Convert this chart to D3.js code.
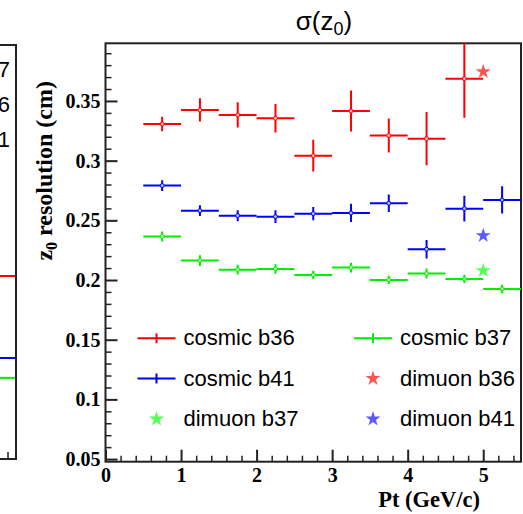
<!DOCTYPE html>
<html>
<head>
<meta charset="utf-8">
<script src="https://cdn.jsdelivr.net/npm/d3@7"></script>
<style>
  body { margin: 0; background: #fff; }
  svg { display: block; }
</style>
</head>
<body>
<div id="chart"></div>
<script>
// bin centres in Pt (GeV/c), each bin is 0.5 wide
const ptBins = [0.75, 1.25, 1.75, 2.25, 2.75, 3.25, 3.75, 4.25, 4.75, 5.25];
const binHalfWidth = 0.25;

// cosmic samples: z0 resolution (cm) and errors
const cosmicB36 = [0.3307, 0.3425, 0.3383, 0.3355, 0.3042, 0.3416, 0.3210, 0.3184, 0.3687];
const cosmicB36Err = [0.0061, 0.0098, 0.0106, 0.0119, 0.0133, 0.0172, 0.0142, 0.0223, 0.0327];
const cosmicB37 = [0.2364, 0.2163, 0.2087, 0.2093, 0.2043, 0.2104, 0.2001, 0.2054, 0.2009, 0.1925];
const cosmicB37Err = [0.0042, 0.0045, 0.0040, 0.0040, 0.0035, 0.0040, 0.0035, 0.0042, 0.0035, 0.0035];
const cosmicB41 = [0.2791, 0.2581, 0.2539, 0.2531, 0.2556, 0.2562, 0.2643, 0.2258, 0.2598, 0.2671];
const cosmicB41Err = [0.0045, 0.0045, 0.0046, 0.0053, 0.0056, 0.0077, 0.0073, 0.0078, 0.0107, 0.0114];

// dimuon samples, single point each
const dimuonPt = 5.0;
const dimuonB36 = 0.3745;
const dimuonB37 = 0.2079;
const dimuonB41 = 0.2372;

const yMajorTicks = [0.05, 0.1, 0.15, 0.2, 0.25, 0.3, 0.35];
const xMajorTicks = [0, 1, 2, 3, 4, 5];

// neighbouring pad (cut off on the left): last visible bin levels, as fraction of its frame
const leftPanelLevels = [0.442, 0.244, 0.196];
const leftPanelLegend = ["cosmic b37", "dimuon b36", "dimuon b41"];

const RED = "#ff0000", GREEN = "#00ee00", BLUE = "#0000ff";
const RED_STAR = "#ff5555", GREEN_STAR = "#55ff55", BLUE_STAR = "#5a5aff";
const serif = "'Liberation Serif', 'Times New Roman', serif";
const sans = "'Liberation Sans', Arial, Helvetica, sans-serif";

const W = 523, H = 514;
const frame = {left: 105.5, right: 521, top: 43.3, bottom: 461.7};

const svg = d3.select("#chart").append("svg")
    .attr("width", W).attr("height", H);

const x = d3.scaleLinear().domain([0, 5.5]).range([frame.left, frame.right]);
const y = d3.scaleLinear().domain([0.0478, 0.3983]).range([frame.bottom, frame.top]);

// ---- left neighbour pad (only its right edge shows) ----
const yLeft = d3.scaleLinear().domain([0, 1]).range([459, 45]);
const leftG = svg.append("g");
leftG.selectAll(".lvl")
    .data(leftPanelLevels)
    .enter().append("line")
    .attr("x1", 0).attr("x2", 16)
    .attr("y1", d => yLeft(d)).attr("y2", d => yLeft(d))
    .style("stroke", (d, i) => [RED, BLUE, GREEN][i])
    .style("stroke-width", 2);
leftG.append("path")
    .attr("d", `M0,${yLeft(1)}H16V${yLeft(0)}H0`)
    .style("fill", "none").style("stroke", "#222").style("stroke-width", 2);
leftG.append("line")
    .attr("x1", 8).attr("x2", 8).attr("y1", yLeft(0)).attr("y2", yLeft(0) - 7)
    .style("stroke", "#222").style("stroke-width", 1.5);
leftG.selectAll(".ltxt")
    .data(leftPanelLegend)
    .enter().append("text")
    .attr("x", 10).attr("y", (d, i) => 77 + i * 35)
    .attr("text-anchor", "end")
    .style("font-family", sans).style("font-size", "22px")
    .text(d => d);

// ---- main pad ----
svg.append("clipPath").attr("id", "frameClip")
    .append("rect")
    .attr("x", frame.left).attr("y", frame.top)
    .attr("width", frame.right - frame.left).attr("height", frame.bottom - frame.top);

// minor ticks
const yMinor = d3.range(5, 40).map(d => d / 100).filter(d => !yMajorTicks.some(m => Math.abs(m - d) < 1e-9));
const xMinor = d3.range(0, 28).map(d => d / 5).filter(d => d % 1 !== 0);

svg.append("g")
    .attr("transform", `translate(${frame.left},0)`)
    .call(d3.axisLeft(y).tickValues(yMinor).tickSize(-6).tickFormat(""))
    .call(g => g.select(".domain").remove())
    .selectAll("line").style("stroke", "#222").style("stroke-width", 1.5);

svg.append("g")
    .attr("transform", `translate(0,${frame.bottom})`)
    .call(d3.axisBottom(x).tickValues(xMinor).tickSize(-6).tickFormat(""))
    .call(g => g.select(".domain").remove())
    .selectAll("line").style("stroke", "#222").style("stroke-width", 1.5);

const yAxis = svg.append("g")
    .attr("transform", `translate(${frame.left},0)`)
    .call(d3.axisLeft(y).tickValues(yMajorTicks).tickSize(-12).tickPadding(5)
        .tickFormat(d => String(+d.toFixed(2))));
yAxis.select(".domain").remove();
yAxis.selectAll("line").style("stroke", "#222").style("stroke-width", 2);
yAxis.selectAll("text")
    .style("font-family", serif).style("font-weight", "bold")
    .style("font-size", "20px").style("fill", "#000");

const xAxis = svg.append("g")
    .attr("transform", `translate(0,${frame.bottom})`)
    .call(d3.axisBottom(x).tickValues(xMajorTicks).tickSize(-12).tickPadding(6)
        .tickFormat(d3.format("d")));
xAxis.select(".domain").remove();
xAxis.selectAll("line").style("stroke", "#222").style("stroke-width", 2);
xAxis.selectAll("text")
    .style("font-family", serif).style("font-weight", "bold")
    .style("font-size", "20px").style("fill", "#000");

// frame
svg.append("rect")
    .attr("x", frame.left).attr("y", frame.top)
    .attr("width", frame.right - frame.left).attr("height", frame.bottom - frame.top)
    .style("fill", "none").style("stroke", "#222").style("stroke-width", 2);

// error-bar graphs
const plot = svg.append("g").attr("clip-path", "url(#frameClip)");

function drawGraph(values, errs, color, cls) {
    const pts = values.map((v, i) => ({pt: ptBins[i], v: v, e: errs[i]}));
    const g = plot.append("g").attr("class", cls);
    g.selectAll(".hbar").data(pts).enter().append("line")
        .attr("x1", d => x(d.pt - binHalfWidth)).attr("x2", d => x(d.pt + binHalfWidth))
        .attr("y1", d => y(d.v)).attr("y2", d => y(d.v))
        .style("stroke", color).style("stroke-width", 2);
    g.selectAll(".vbar").data(pts).enter().append("line")
        .attr("x1", d => x(d.pt)).attr("x2", d => x(d.pt))
        .attr("y1", d => y(d.v - d.e)).attr("y2", d => y(d.v + d.e))
        .style("stroke", color).style("stroke-width", 2);
    g.selectAll(".dot").data(pts).enter().append("circle")
        .attr("cx", d => x(d.pt)).attr("cy", d => y(d.v)).attr("r", 2)
        .style("fill", "#fff").style("fill-opacity", 0.7)
        .style("stroke", color).style("stroke-width", 1);
}
drawGraph(cosmicB36, cosmicB36Err, RED, "b36");
drawGraph(cosmicB37, cosmicB37Err, GREEN, "b37");
drawGraph(cosmicB41, cosmicB41Err, BLUE, "b41");

const star = d3.symbol(d3.symbolStar, 70);
plot.selectAll(".star")
    .data([[dimuonB36, RED_STAR], [dimuonB37, GREEN_STAR], [dimuonB41, BLUE_STAR]])
    .enter().append("path")
    .attr("d", star)
    .attr("transform", d => `translate(${x(dimuonPt)},${y(d[0])})`)
    .style("fill", d => d[1]);

// legend
const legendEntries = [
    {label: "cosmic b36", color: RED, type: "line", col: 0, row: 0},
    {label: "cosmic b37", color: GREEN, type: "line", col: 1, row: 0},
    {label: "cosmic b41", color: BLUE, type: "line", col: 0, row: 1},
    {label: "dimuon b36", color: RED_STAR, type: "star", col: 1, row: 1},
    {label: "dimuon b37", color: GREEN_STAR, type: "star", col: 0, row: 2},
    {label: "dimuon b41", color: BLUE_STAR, type: "star", col: 1, row: 2}
];
const legCols = [156.5, 373];
const legRows = [338.3, 378.5, 419];
const leg = svg.append("g");
legendEntries.forEach(e => {
    const cx = legCols[e.col], cy = legRows[e.row];
    if (e.type === "line") {
        leg.append("line").attr("x1", cx - 19).attr("x2", cx + 19)
            .attr("y1", cy).attr("y2", cy)
            .style("stroke", e.color).style("stroke-width", 2);
        leg.append("line").attr("x1", cx).attr("x2", cx)
            .attr("y1", cy - 5).attr("y2", cy + 5)
            .style("stroke", e.color).style("stroke-width", 2);
    } else {
        leg.append("path").attr("d", star)
            .attr("transform", `translate(${cx},${cy})`)
            .style("fill", e.color);
    }
    leg.append("text")
        .attr("x", cx + 27).attr("y", cy + 7)
        .style("font-family", sans).style("font-size", "22px")
        .text(e.label);
});

// titles
const title = svg.append("text")
    .attr("x", 324).attr("y", 30)
    .attr("text-anchor", "middle")
    .style("font-family", sans).style("font-size", "26px");
title.append("tspan").text("σ(z");
title.append("tspan").attr("dy", 5).style("font-size", "18px").text("0");
title.append("tspan").attr("dy", -5).text(")");

const yTitle = svg.append("text")
    .attr("transform", "translate(52,81) rotate(-90)")
    .attr("text-anchor", "end")
    .style("font-family", serif).style("font-weight", "bold").style("font-size", "24px");
yTitle.append("tspan").text("z");
yTitle.append("tspan").attr("dy", 5).style("font-size", "16px").text("0");
yTitle.append("tspan").attr("dy", -5).text(" resolution (cm)");

svg.append("text")
    .attr("x", 480).attr("y", 507)
    .attr("text-anchor", "end")
    .style("font-family", serif).style("font-weight", "bold").style("font-size", "22.5px")
    .text("Pt (GeV/c)");
</script>
</body>
</html>
